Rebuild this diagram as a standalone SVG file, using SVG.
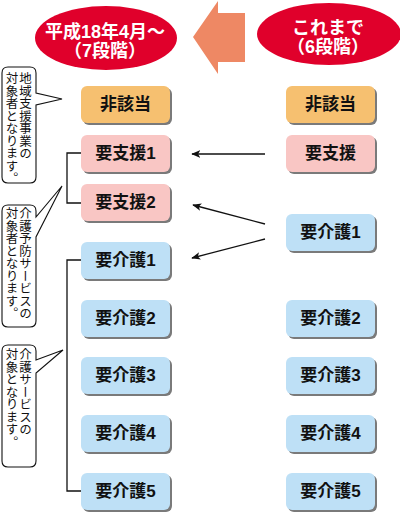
<svg xmlns="http://www.w3.org/2000/svg" width="400" height="513" viewBox="0 0 400 513">
<defs>
<style>
.sh{fill:#7a7a7a}
.or{fill:#F6C070}
.pk{fill:#F9C6C4}
.bl{fill:#BEE0F6}
.bt{font-family:"Liberation Sans","Noto Sans CJK JP",sans-serif;font-weight:bold;font-size:17px;fill:#111;text-anchor:middle;dominant-baseline:central}
.et{font-family:"Liberation Sans","Noto Sans CJK JP",sans-serif;font-weight:bold;font-size:18px;fill:#fff;text-anchor:middle}
.vt{font-family:"Noto Sans CJK JP",sans-serif;font-size:12.5px;fill:#111;writing-mode:vertical-rl}
.bub{fill:#fff;stroke:#111;stroke-width:1.1}
.ln{fill:none;stroke:#111;stroke-width:1.3}
</style>
<marker id="ah" viewBox="0 0 12 10" refX="11" refY="5" markerWidth="9" markerHeight="8" markerUnits="userSpaceOnUse" orient="auto">
<path d="M0,0 L12,5 L0,10 L3,5 Z" fill="#111"/>
</marker>
</defs>

<g id="header-left">
<ellipse cx="106" cy="38" rx="71" ry="32" fill="#E0002B"/>
<text class="et" x="105" y="38">平成18年4月～</text>
<text class="et" x="105" y="57">（7段階）</text>
</g>
<g id="header-right">
<ellipse cx="329" cy="34" rx="72" ry="31" fill="#E0002B"/>
<text class="et" x="328" y="34">これまで</text>
<text class="et" x="328" y="53">（6段階）</text>
</g>
<g id="big-arrow">
<polygon points="193,37 218,1 218,13 245,13 245,62 218,62 218,74" fill="#EE8864"/>
</g>

<g id="callout1">
<path class="bub" d="M8,67 H30 Q36,67 36,73 V93 L62,99 L36,105 V177 Q36,183 30,183 H8 Q2,183 2,177 V73 Q2,67 8,67 Z"/>
<text class="vt" x="25.5" y="72">地域支援事業の</text>
<text class="vt" x="12" y="72">対象者となります。</text>
</g>
<g id="callout2">
<path class="bub" d="M8,205 H30 Q36,205 36,211 V217 L62,186 L36,237 V321 Q36,327 30,327 H8 Q2,327 2,321 V211 Q2,205 8,205 Z"/>
<text class="vt" x="25.5" y="207">介護予防サービスの</text>
<text class="vt" x="12" y="207">対象者となります。</text>
</g>
<g id="callout3">
<path class="bub" d="M8,345 H30 Q36,345 36,351 V360 L63,350 L36,373 V461 Q36,467 30,467 H8 Q2,467 2,461 V351 Q2,345 8,345 Z"/>
<text class="vt" x="25.5" y="348">介護サービスの</text>
<text class="vt" x="12" y="348">対象となります。</text>
</g>

<g id="connectors">
<path class="ln" d="M81,153 H67 V203 H81"/>
<path class="ln" d="M81,260 H67 V491 H81"/>
<line class="ln" x1="265" y1="154" x2="192" y2="154" marker-end="url(#ah)"/>
<line class="ln" x1="265" y1="224" x2="193" y2="205" marker-end="url(#ah)"/>
<line class="ln" x1="265" y1="239" x2="192" y2="258" marker-end="url(#ah)"/>
</g>

<g id="L-hiGaitou"><rect class="sh" x="83" y="88" width="89" height="37" rx="6"/><rect class="or" x="81" y="86" width="89" height="37" rx="6"/><text class="bt" x="125.5" y="104.5">非該当</text></g>
<g id="L-shien1"><rect class="sh" x="83" y="137" width="89" height="37" rx="6"/><rect class="pk" x="81" y="135" width="89" height="37" rx="6"/><text class="bt" x="125.5" y="153.5">要支援1</text></g>
<g id="L-shien2"><rect class="sh" x="83" y="186" width="89" height="37" rx="6"/><rect class="pk" x="81" y="184" width="89" height="37" rx="6"/><text class="bt" x="125.5" y="202.5">要支援2</text></g>
<g id="L-kaigo1"><rect class="sh" x="83" y="244" width="89" height="37" rx="6"/><rect class="bl" x="81" y="242" width="89" height="37" rx="6"/><text class="bt" x="125.5" y="260.5">要介護1</text></g>
<g id="L-kaigo2"><rect class="sh" x="83" y="302" width="89" height="37" rx="6"/><rect class="bl" x="81" y="300" width="89" height="37" rx="6"/><text class="bt" x="125.5" y="318.5">要介護2</text></g>
<g id="L-kaigo3"><rect class="sh" x="83" y="359" width="89" height="37" rx="6"/><rect class="bl" x="81" y="357" width="89" height="37" rx="6"/><text class="bt" x="125.5" y="375.5">要介護3</text></g>
<g id="L-kaigo4"><rect class="sh" x="83" y="417" width="89" height="37" rx="6"/><rect class="bl" x="81" y="415" width="89" height="37" rx="6"/><text class="bt" x="125.5" y="433.5">要介護4</text></g>
<g id="L-kaigo5"><rect class="sh" x="83" y="475" width="89" height="37" rx="6"/><rect class="bl" x="81" y="473" width="89" height="37" rx="6"/><text class="bt" x="125.5" y="491.5">要介護5</text></g>

<g id="R-hiGaitou"><rect class="sh" x="288" y="88" width="89" height="37" rx="6"/><rect class="or" x="286" y="86" width="89" height="37" rx="6"/><text class="bt" x="330.5" y="104.5">非該当</text></g>
<g id="R-shien"><rect class="sh" x="288" y="137" width="89" height="37" rx="6"/><rect class="pk" x="286" y="135" width="89" height="37" rx="6"/><text class="bt" x="330.5" y="153.5">要支援</text></g>
<g id="R-kaigo1"><rect class="sh" x="288" y="216" width="89" height="37" rx="6"/><rect class="bl" x="286" y="214" width="89" height="37" rx="6"/><text class="bt" x="330.5" y="232.5">要介護1</text></g>
<g id="R-kaigo2"><rect class="sh" x="288" y="302" width="89" height="37" rx="6"/><rect class="bl" x="286" y="300" width="89" height="37" rx="6"/><text class="bt" x="330.5" y="318.5">要介護2</text></g>
<g id="R-kaigo3"><rect class="sh" x="288" y="359" width="89" height="37" rx="6"/><rect class="bl" x="286" y="357" width="89" height="37" rx="6"/><text class="bt" x="330.5" y="375.5">要介護3</text></g>
<g id="R-kaigo4"><rect class="sh" x="288" y="417" width="89" height="37" rx="6"/><rect class="bl" x="286" y="415" width="89" height="37" rx="6"/><text class="bt" x="330.5" y="433.5">要介護4</text></g>
<g id="R-kaigo5"><rect class="sh" x="288" y="475" width="89" height="37" rx="6"/><rect class="bl" x="286" y="473" width="89" height="37" rx="6"/><text class="bt" x="330.5" y="491.5">要介護5</text></g>
</svg>
